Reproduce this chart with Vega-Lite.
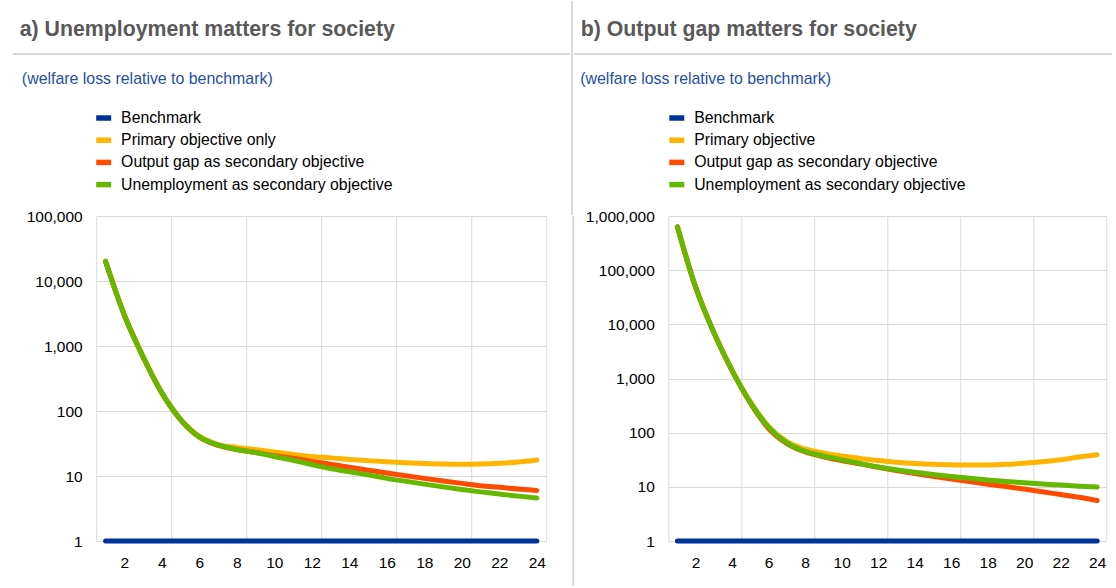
{
  "$schema": "https://vega.github.io/schema/vega-lite/v6.json",
  "background": "white",
  "padding": {"left": 12, "top": 0, "right": 0, "bottom": 0},
  "config": {
    "view": {"stroke": null},
    "font": "Liberation Sans",
    "axis": {"labelFont": "Liberation Sans", "labelFontSize": 15.5, "labelColor": "#000000", "title": null, "domain": false, "ticks": false, "tickSize": 0, "labelPadding": 14, "gridColor": "#d9d9d9", "gridWidth": 1},
    "legend": {"labelFont": "Liberation Sans", "labelFontSize": 15.8, "labelColor": "#000000"}
  },
  "datasets": {
    "A": [
      {"x":1,"s":"Benchmark","v":1},{"x":2,"s":"Benchmark","v":1},{"x":3,"s":"Benchmark","v":1},{"x":4,"s":"Benchmark","v":1},{"x":5,"s":"Benchmark","v":1},{"x":6,"s":"Benchmark","v":1},{"x":7,"s":"Benchmark","v":1},{"x":8,"s":"Benchmark","v":1},{"x":9,"s":"Benchmark","v":1},{"x":10,"s":"Benchmark","v":1},{"x":11,"s":"Benchmark","v":1},{"x":12,"s":"Benchmark","v":1},{"x":13,"s":"Benchmark","v":1},{"x":14,"s":"Benchmark","v":1},{"x":15,"s":"Benchmark","v":1},{"x":16,"s":"Benchmark","v":1},{"x":17,"s":"Benchmark","v":1},{"x":18,"s":"Benchmark","v":1},{"x":19,"s":"Benchmark","v":1},{"x":20,"s":"Benchmark","v":1},{"x":21,"s":"Benchmark","v":1},{"x":22,"s":"Benchmark","v":1},{"x":23,"s":"Benchmark","v":1},{"x":24,"s":"Benchmark","v":1},
      {"x":1,"s":"Primary objective only","v":20000},{"x":2,"s":"Primary objective only","v":3000},{"x":3,"s":"Primary objective only","v":680},{"x":4,"s":"Primary objective only","v":190},{"x":5,"s":"Primary objective only","v":75},{"x":6,"s":"Primary objective only","v":41},{"x":7,"s":"Primary objective only","v":30.5},{"x":8,"s":"Primary objective only","v":27.5},{"x":9,"s":"Primary objective only","v":25.5},{"x":10,"s":"Primary objective only","v":23.5},{"x":11,"s":"Primary objective only","v":21.5},{"x":12,"s":"Primary objective only","v":20},{"x":13,"s":"Primary objective only","v":19},{"x":14,"s":"Primary objective only","v":18},{"x":15,"s":"Primary objective only","v":17.2},{"x":16,"s":"Primary objective only","v":16.5},{"x":17,"s":"Primary objective only","v":16},{"x":18,"s":"Primary objective only","v":15.6},{"x":19,"s":"Primary objective only","v":15.3},{"x":20,"s":"Primary objective only","v":15.2},{"x":21,"s":"Primary objective only","v":15.3},{"x":22,"s":"Primary objective only","v":15.7},{"x":23,"s":"Primary objective only","v":16.4},{"x":24,"s":"Primary objective only","v":17.6},
      {"x":1,"s":"Output gap as secondary objective","v":20000},{"x":2,"s":"Output gap as secondary objective","v":3000},{"x":3,"s":"Output gap as secondary objective","v":680},{"x":4,"s":"Output gap as secondary objective","v":190},{"x":5,"s":"Output gap as secondary objective","v":73},{"x":6,"s":"Output gap as secondary objective","v":39.5},{"x":7,"s":"Output gap as secondary objective","v":29.5},{"x":8,"s":"Output gap as secondary objective","v":25.5},{"x":9,"s":"Output gap as secondary objective","v":23},{"x":10,"s":"Output gap as secondary objective","v":20.5},{"x":11,"s":"Output gap as secondary objective","v":18.8},{"x":12,"s":"Output gap as secondary objective","v":16.8},{"x":13,"s":"Output gap as secondary objective","v":15.2},{"x":14,"s":"Output gap as secondary objective","v":13.6},{"x":15,"s":"Output gap as secondary objective","v":12.3},{"x":16,"s":"Output gap as secondary objective","v":11.1},{"x":17,"s":"Output gap as secondary objective","v":10.1},{"x":18,"s":"Output gap as secondary objective","v":9.2},{"x":19,"s":"Output gap as secondary objective","v":8.4},{"x":20,"s":"Output gap as secondary objective","v":7.7},{"x":21,"s":"Output gap as secondary objective","v":7.1},{"x":22,"s":"Output gap as secondary objective","v":6.7},{"x":23,"s":"Output gap as secondary objective","v":6.3},{"x":24,"s":"Output gap as secondary objective","v":6.0},
      {"x":1,"s":"Unemployment as secondary objective","v":20000},{"x":2,"s":"Unemployment as secondary objective","v":3000},{"x":3,"s":"Unemployment as secondary objective","v":680},{"x":4,"s":"Unemployment as secondary objective","v":190},{"x":5,"s":"Unemployment as secondary objective","v":74},{"x":6,"s":"Unemployment as secondary objective","v":40},{"x":7,"s":"Unemployment as secondary objective","v":30},{"x":8,"s":"Unemployment as secondary objective","v":25.5},{"x":9,"s":"Unemployment as secondary objective","v":23},{"x":10,"s":"Unemployment as secondary objective","v":20},{"x":11,"s":"Unemployment as secondary objective","v":17.5},{"x":12,"s":"Unemployment as secondary objective","v":15},{"x":13,"s":"Unemployment as secondary objective","v":13},{"x":14,"s":"Unemployment as secondary objective","v":11.6},{"x":15,"s":"Unemployment as secondary objective","v":10.4},{"x":16,"s":"Unemployment as secondary objective","v":9.2},{"x":17,"s":"Unemployment as secondary objective","v":8.3},{"x":18,"s":"Unemployment as secondary objective","v":7.5},{"x":19,"s":"Unemployment as secondary objective","v":6.8},{"x":20,"s":"Unemployment as secondary objective","v":6.2},{"x":21,"s":"Unemployment as secondary objective","v":5.7},{"x":22,"s":"Unemployment as secondary objective","v":5.3},{"x":23,"s":"Unemployment as secondary objective","v":4.9},{"x":24,"s":"Unemployment as secondary objective","v":4.6}
    ],
    "B": [
      {"x":1,"s":"Benchmark","v":1},{"x":2,"s":"Benchmark","v":1},{"x":3,"s":"Benchmark","v":1},{"x":4,"s":"Benchmark","v":1},{"x":5,"s":"Benchmark","v":1},{"x":6,"s":"Benchmark","v":1},{"x":7,"s":"Benchmark","v":1},{"x":8,"s":"Benchmark","v":1},{"x":9,"s":"Benchmark","v":1},{"x":10,"s":"Benchmark","v":1},{"x":11,"s":"Benchmark","v":1},{"x":12,"s":"Benchmark","v":1},{"x":13,"s":"Benchmark","v":1},{"x":14,"s":"Benchmark","v":1},{"x":15,"s":"Benchmark","v":1},{"x":16,"s":"Benchmark","v":1},{"x":17,"s":"Benchmark","v":1},{"x":18,"s":"Benchmark","v":1},{"x":19,"s":"Benchmark","v":1},{"x":20,"s":"Benchmark","v":1},{"x":21,"s":"Benchmark","v":1},{"x":22,"s":"Benchmark","v":1},{"x":23,"s":"Benchmark","v":1},{"x":24,"s":"Benchmark","v":1},
      {"x":1,"s":"Primary objective","v":630000},{"x":2,"s":"Primary objective","v":48000},{"x":3,"s":"Primary objective","v":7000},{"x":4,"s":"Primary objective","v":1400},{"x":5,"s":"Primary objective","v":370},{"x":6,"s":"Primary objective","v":130},{"x":7,"s":"Primary objective","v":68},{"x":8,"s":"Primary objective","v":50},{"x":9,"s":"Primary objective","v":42},{"x":10,"s":"Primary objective","v":37},{"x":11,"s":"Primary objective","v":33.5},{"x":12,"s":"Primary objective","v":30.5},{"x":13,"s":"Primary objective","v":28.5},{"x":14,"s":"Primary objective","v":27},{"x":15,"s":"Primary objective","v":26},{"x":16,"s":"Primary objective","v":25.5},{"x":17,"s":"Primary objective","v":25.2},{"x":18,"s":"Primary objective","v":25.3},{"x":19,"s":"Primary objective","v":26},{"x":20,"s":"Primary objective","v":27.3},{"x":21,"s":"Primary objective","v":29},{"x":22,"s":"Primary objective","v":31.5},{"x":23,"s":"Primary objective","v":35.5},{"x":24,"s":"Primary objective","v":39},
      {"x":1,"s":"Output gap as secondary objective","v":630000},{"x":2,"s":"Output gap as secondary objective","v":48000},{"x":3,"s":"Output gap as secondary objective","v":7000},{"x":4,"s":"Output gap as secondary objective","v":1380},{"x":5,"s":"Output gap as secondary objective","v":350},{"x":6,"s":"Output gap as secondary objective","v":118},{"x":7,"s":"Output gap as secondary objective","v":63},{"x":8,"s":"Output gap as secondary objective","v":44},{"x":9,"s":"Output gap as secondary objective","v":36},{"x":10,"s":"Output gap as secondary objective","v":30.5},{"x":11,"s":"Output gap as secondary objective","v":26.5},{"x":12,"s":"Output gap as secondary objective","v":23},{"x":13,"s":"Output gap as secondary objective","v":20},{"x":14,"s":"Output gap as secondary objective","v":17.6},{"x":15,"s":"Output gap as secondary objective","v":15.6},{"x":16,"s":"Output gap as secondary objective","v":13.9},{"x":17,"s":"Output gap as secondary objective","v":12.5},{"x":18,"s":"Output gap as secondary objective","v":11.2},{"x":19,"s":"Output gap as secondary objective","v":10.1},{"x":20,"s":"Output gap as secondary objective","v":9.1},{"x":21,"s":"Output gap as secondary objective","v":8.1},{"x":22,"s":"Output gap as secondary objective","v":7.2},{"x":23,"s":"Output gap as secondary objective","v":6.4},{"x":24,"s":"Output gap as secondary objective","v":5.6},
      {"x":1,"s":"Unemployment as secondary objective","v":630000},{"x":2,"s":"Unemployment as secondary objective","v":48000},{"x":3,"s":"Unemployment as secondary objective","v":7000},{"x":4,"s":"Unemployment as secondary objective","v":1400},{"x":5,"s":"Unemployment as secondary objective","v":360},{"x":6,"s":"Unemployment as secondary objective","v":125},{"x":7,"s":"Unemployment as secondary objective","v":65},{"x":8,"s":"Unemployment as secondary objective","v":45},{"x":9,"s":"Unemployment as secondary objective","v":37},{"x":10,"s":"Unemployment as secondary objective","v":31.5},{"x":11,"s":"Unemployment as secondary objective","v":27},{"x":12,"s":"Unemployment as secondary objective","v":23.2},{"x":13,"s":"Unemployment as secondary objective","v":20.6},{"x":14,"s":"Unemployment as secondary objective","v":18.6},{"x":15,"s":"Unemployment as secondary objective","v":16.9},{"x":16,"s":"Unemployment as secondary objective","v":15.5},{"x":17,"s":"Unemployment as secondary objective","v":14.4},{"x":18,"s":"Unemployment as secondary objective","v":13.4},{"x":19,"s":"Unemployment as secondary objective","v":12.6},{"x":20,"s":"Unemployment as secondary objective","v":11.9},{"x":21,"s":"Unemployment as secondary objective","v":11.3},{"x":22,"s":"Unemployment as secondary objective","v":10.8},{"x":23,"s":"Unemployment as secondary objective","v":10.3},{"x":24,"s":"Unemployment as secondary objective","v":9.9}
    ]
  },
  "spacing": -300,
  "resolve": {"scale": {"x": "independent", "y": "independent", "color": "independent"}, "legend": {"color": "independent"}},
  "vconcat": [
    {
      "spacing": 0,
      "resolve": {"scale": {"x": "independent", "y": "independent"}},
      "hconcat": [
        {
          "width": 557, "height": 53,
          "data": {"values": [{}]},
          "title": {"text": "a) Unemployment matters for society", "anchor": "start", "frame": "group", "font": "Liberation Sans", "fontSize": 21.3, "fontWeight": "bold", "color": "#595959", "baseline": "alphabetic", "offset": 0, "dx": 6.7, "dy": 56},
          "mark": {"type": "rule", "color": "#d9d9d9", "strokeWidth": 2},
          "encoding": {"y": {"datum": 0, "type": "quantitative", "scale": {"domain": [0, 1]}, "axis": null}}
        },
        {
          "width": 1, "height": 214,
          "data": {"values": [{}]},
          "mark": {"type": "rule", "color": "#d9d9d9", "strokeWidth": 2},
          "encoding": {"x": {"datum": 0, "type": "quantitative", "scale": {"domain": [0, 1]}, "axis": null}}
        },
        {
          "width": 538, "height": 53,
          "data": {"values": [{}]},
          "title": {"text": "b) Output gap matters for society", "anchor": "start", "frame": "group", "font": "Liberation Sans", "fontSize": 21.3, "fontWeight": "bold", "color": "#595959", "baseline": "alphabetic", "offset": 0, "dx": 6.7, "dy": 56},
          "mark": {"type": "rule", "color": "#d9d9d9", "strokeWidth": 2},
          "encoding": {"y": {"datum": 0, "type": "quantitative", "scale": {"domain": [0, 1]}, "axis": null}}
        }
      ]
    },
    {
      "spacing": 7.2,
      "resolve": {"scale": {"x": "independent", "y": "independent", "color": "independent"}, "legend": {"color": "independent"}},
      "hconcat": [
        {
          "width": 1, "height": 1,
          "data": {"values": []},
          "mark": "point"
        },
        {
          "spacing": 5.1,
          "resolve": {"scale": {"x": "independent", "y": "independent", "color": "independent"}, "legend": {"color": "independent"}},
          "hconcat": [
            {
              "spacing": 26,
              "resolve": {"scale": {"x": "independent", "y": "independent", "color": "independent"}, "legend": {"color": "independent"}},
              "hconcat": [
                {
                  "width": 450, "height": 325,
                  "data": {"name": "A"},
                  "title": {"text": "(welfare loss relative to benchmark)", "anchor": "start", "frame": "bounds", "font": "Liberation Sans", "fontSize": 15.9, "fontWeight": "normal", "color": "#1f4ea6", "baseline": "alphabetic", "offset": 7.4, "dx": -4.3},
                  "mark": {"type": "line", "strokeWidth": 5, "strokeCap": "round", "strokeJoin": "round", "interpolate": "monotone"},
                  "encoding": {
                    "x": {"field": "x", "type": "quantitative", "scale": {"domain": [0.5, 24.5], "nice": false, "zero": false},
                          "axis": {"values": [0.5, 2, 4, 4.5, 6, 8, 8.5, 10, 12, 12.5, 14, 16, 16.5, 18, 20, 20.5, 22, 24, 24.5], "grid": true,
                                   "gridOpacity": {"condition": {"test": "datum.value % 1 !== 0", "value": 1}, "value": 0},
                                   "labelExpr": "datum.value % 1 === 0 ? datum.label : ''", "labelFlush": false, "labelOverlap": false}},
                    "y": {"field": "v", "type": "quantitative", "scale": {"type": "log", "domain": [1, 100000], "nice": false},
                          "axis": {"values": [1, 10, 100, 1000, 10000, 100000], "format": ",", "grid": true}},
                    "color": {"field": "s", "type": "nominal",
                              "scale": {"domain": ["Benchmark", "Primary objective only", "Output gap as secondary objective", "Unemployment as secondary objective"], "range": ["#003299", "#ffb400", "#ff4b00", "#65b800"]},
                              "legend": {"orient": "none", "legendX": -3, "legendY": -108.5, "title": null, "direction": "vertical", "symbolType": "stroke", "symbolSize": 225, "symbolStrokeWidth": 5.5, "labelOffset": 6.9, "rowPadding": -0.8, "padding": 0, "labelLimit": 500}}
                  }
                },
                {
                  "width": 1, "height": 370,
                  "data": {"values": [{}]},
                  "mark": {"type": "rule", "color": "#d9d9d9", "strokeWidth": 2},
                  "encoding": {"x": {"datum": 0, "type": "quantitative", "scale": {"domain": [0, 1]}, "axis": null}}
                }
              ]
            },
            {
              "width": 438, "height": 325,
              "data": {"name": "B"},
              "title": {"text": "(welfare loss relative to benchmark)", "anchor": "start", "frame": "bounds", "font": "Liberation Sans", "fontSize": 15.9, "fontWeight": "normal", "color": "#1f4ea6", "baseline": "alphabetic", "offset": 7.4, "dx": -5.1},
              "mark": {"type": "line", "strokeWidth": 5, "strokeCap": "round", "strokeJoin": "round", "interpolate": "monotone"},
              "encoding": {
                "x": {"field": "x", "type": "quantitative", "scale": {"domain": [0.5, 24.5], "nice": false, "zero": false},
                      "axis": {"values": [0.5, 2, 4, 4.5, 6, 8, 8.5, 10, 12, 12.5, 14, 16, 16.5, 18, 20, 20.5, 22, 24, 24.5], "grid": true,
                               "gridOpacity": {"condition": {"test": "datum.value % 1 !== 0", "value": 1}, "value": 0},
                               "labelExpr": "datum.value % 1 === 0 ? datum.label : ''", "labelFlush": false, "labelOverlap": false}},
                "y": {"field": "v", "type": "quantitative", "scale": {"type": "log", "domain": [1, 1000000], "nice": false},
                      "axis": {"values": [1, 10, 100, 1000, 10000, 100000, 1000000], "format": ",", "grid": true}},
                "color": {"field": "s", "type": "nominal",
                          "scale": {"domain": ["Benchmark", "Primary objective", "Output gap as secondary objective", "Unemployment as secondary objective"], "range": ["#003299", "#ffb400", "#ff4b00", "#65b800"]},
                          "legend": {"orient": "none", "legendX": -2, "legendY": -108.5, "title": null, "direction": "vertical", "symbolType": "stroke", "symbolSize": 225, "symbolStrokeWidth": 5.5, "labelOffset": 6.9, "rowPadding": -0.8, "padding": 0, "labelLimit": 500}}
              }
            }
          ]
        }
      ]
    }
  ]
}
